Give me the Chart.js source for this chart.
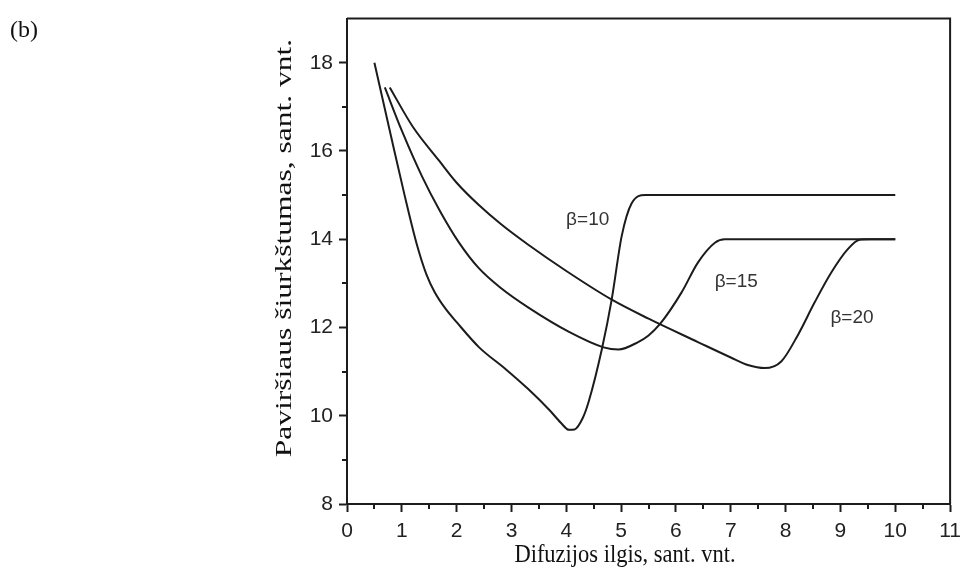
<!DOCTYPE html>
<html>
<head>
<meta charset="utf-8">
<script src="https://cdn.jsdelivr.net/npm/chart.js@4"></script>
<style>
  body { margin: 0; background: #fff; }
  #chart { display: block; }
</style>
</head>
<body>
<canvas id="chart" width="968" height="574"></canvas>
<script>
// curve data (x = diffusion length, y = roughness)
const x10 = [0.5, 0.8, 1.05, 1.27, 1.45, 1.6, 1.8, 2.0, 2.41, 2.9, 3.31, 3.7, 3.9, 4.05, 4.15, 4.3, 4.41, 4.65, 4.83, 5.01, 5.19, 5.44, 10];
const y10 = [18.0, 16.35, 15.0, 13.9, 13.2, 12.8, 12.42, 12.12, 11.55, 11.05, 10.6, 10.12, 9.84, 9.68, 9.69, 9.95, 10.33, 11.52, 12.65, 14.07, 14.81, 15.0, 15.0];

const x15 = [0.69, 1.0, 1.37, 1.7, 2.04, 2.4, 2.8, 3.31, 4.05, 4.68, 4.95, 5.31, 5.5, 5.71, 6.1, 6.4, 6.71, 6.89, 7.1, 10];
const y15 = [17.44, 16.46, 15.42, 14.63, 13.93, 13.35, 12.9, 12.45, 11.9, 11.55, 11.5, 11.67, 11.82, 12.08, 12.79, 13.47, 13.92, 14.0, 14.0, 14.0];

const x20 = [0.78, 1.2, 1.68, 2.0, 2.4, 2.8, 3.3, 4.0, 4.83, 5.5, 6.4, 7.0, 7.31, 7.62, 7.92, 8.22, 8.53, 8.83, 9.13, 9.35, 9.55, 10];
const y20 = [17.44, 16.55, 15.78, 15.28, 14.78, 14.35, 13.88, 13.28, 12.63, 12.2, 11.67, 11.32, 11.15, 11.08, 11.23, 11.82, 12.57, 13.24, 13.77, 13.99, 14.0, 14.0];

// in-plot labels (data coordinates)
const labelTexts = ['\u03b2=10', '\u03b2=15', '\u03b2=20'];
const labelX = [4.39, 7.1, 9.21];
const labelY = [14.43, 13.04, 12.21];

const xMinorTicks = [0.5, 1.5, 2.5, 3.5, 4.5, 5.5, 6.5, 7.5, 8.5, 9.5, 10.5];
const yMinorTicks = [9, 11, 13, 15, 17];

const xTitle = 'Difuzijos ilgis, sant. vnt.';
const yTitle = 'Pavir\u0161iaus \u0161iurk\u0161tumas, sant. vnt.';
const panelTag = '(b)';

const ink = '#1c1c1c';
const pts = (xs, ys) => xs.map((x, i) => ({ x: x, y: ys[i] }));

const line = (xs, ys) => ({
  data: pts(xs, ys),
  showLine: true,
  borderColor: ink,
  borderWidth: 2,
  pointRadius: 0,
  cubicInterpolationMode: 'monotone',
  fill: false
});

const extras = {
  id: 'extras',
  afterDraw(chart) {
    const { ctx, chartArea: a, scales } = chart;
    const xs = scales.x, ys = scales.y;
    ctx.save();
    ctx.strokeStyle = ink;
    ctx.lineWidth = 2;
    // top and right frame
    ctx.beginPath();
    ctx.moveTo(a.left, a.top);
    ctx.lineTo(a.right, a.top);
    ctx.lineTo(a.right, a.bottom);
    ctx.stroke();
    // minor ticks
    ctx.beginPath();
    xMinorTicks.forEach(v => {
      const px = Math.round(xs.getPixelForValue(v));
      ctx.moveTo(px, a.bottom);
      ctx.lineTo(px, a.bottom + 5);
    });
    yMinorTicks.forEach(v => {
      const py = Math.round(ys.getPixelForValue(v));
      ctx.moveTo(a.left, py);
      ctx.lineTo(a.left - 5, py);
    });
    ctx.stroke();

    // beta labels
    ctx.fillStyle = '#333';
    ctx.font = '19px "Liberation Sans", Arial, sans-serif';
    ctx.textAlign = 'center';
    ctx.textBaseline = 'middle';
    labelTexts.forEach((t, i) => {
      ctx.fillText(t, xs.getPixelForValue(labelX[i]), ys.getPixelForValue(labelY[i]));
    });

    // axis titles (the source figure is a little stretched vertically)
    ctx.fillStyle = '#111';
    ctx.save();
    ctx.font = '22.5px "Liberation Serif", "Times New Roman", serif';
    ctx.translate(625, 555);
    ctx.scale(1, 1.15);
    ctx.fillText(xTitle, 0, 0);
    ctx.restore();

    ctx.save();
    ctx.font = '23px "Liberation Serif", "Times New Roman", serif';
    ctx.translate(285, 248);
    ctx.rotate(-Math.PI / 2);
    ctx.scale(1.37, 1);
    ctx.fillText(yTitle, 0, 0);
    ctx.restore();

    ctx.font = '24px "Liberation Serif", "Times New Roman", serif';
    ctx.textAlign = 'left';
    ctx.fillText(panelTag, 10, 31);
    ctx.restore();
  }
};

const axisStyle = {
  grid: { drawOnChartArea: false, drawTicks: true, tickLength: 8, tickWidth: 2, tickColor: ink },
  border: { display: true, color: ink, width: 2 }
};

const tickFont = { family: '"Liberation Sans", Arial, sans-serif', size: 21 };

new Chart(document.getElementById('chart'), {
  type: 'scatter',
  data: { datasets: [line(x10, y10), line(x15, y15), line(x20, y20)] },
  options: {
    responsive: false,
    animation: false,
    devicePixelRatio: 1,
    layout: { autoPadding: false, padding: { left: 0, top: 14, right: 15, bottom: 0 } },
    plugins: { legend: { display: false }, tooltip: { enabled: false } },
    scales: {
      x: {
        type: 'linear', min: 0, max: 11,
        ticks: { stepSize: 1, padding: 7, color: '#222', font: tickFont },
        ...axisStyle,
        afterFit(scale) { scale.height = 70; }
      },
      y: {
        type: 'linear', min: 8, max: 19,
        ticks: { stepSize: 1, padding: 6, color: '#222', font: tickFont },
        afterBuildTicks(scale) { scale.ticks = scale.ticks.filter(t => t.value % 2 === 0); },
        ...axisStyle,
        afterFit(scale) { scale.width = 347; }
      }
    }
  },
  plugins: [extras]
});
</script>
</body>
</html>
